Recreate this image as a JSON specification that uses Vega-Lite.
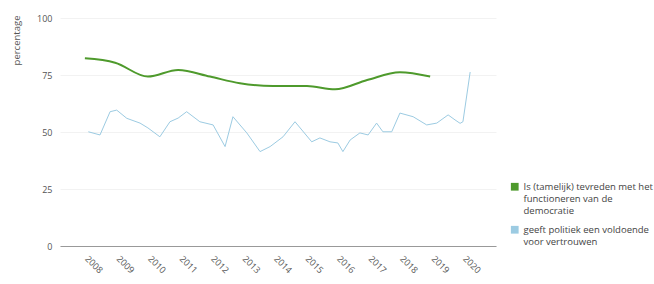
{
  "$schema": "https://vega.github.io/schema/vega-lite/v6.json",
  "autosize": "none",
  "width": 436,
  "height": 228,
  "padding": {"left": 60, "top": 18, "right": 158, "bottom": 38},
  "background": "white",
  "config": {
    "font": "Open Sans",
    "view": {"stroke": null},
    "axis": {"labelColor": "#555", "labelFontSize": 9, "titleColor": "#555", "titleFontSize": 9.5, "titleFontWeight": "normal", "ticks": false, "gridColor": "#f2f2f2"}
  },
  "data": {
    "values": [
      {"jaar": 2007.87, "pct": 82.3, "reeks": "Is (tamelijk) tevreden met het|functioneren van de|democratie"},
      {"jaar": 2008.83, "pct": 80.4, "reeks": "Is (tamelijk) tevreden met het|functioneren van de|democratie"},
      {"jaar": 2009.87, "pct": 74.3, "reeks": "Is (tamelijk) tevreden met het|functioneren van de|democratie"},
      {"jaar": 2010.83, "pct": 77.2, "reeks": "Is (tamelijk) tevreden met het|functioneren van de|democratie"},
      {"jaar": 2011.84, "pct": 74.3, "reeks": "Is (tamelijk) tevreden met het|functioneren van de|democratie"},
      {"jaar": 2012.79, "pct": 71.4, "reeks": "Is (tamelijk) tevreden met het|functioneren van de|democratie"},
      {"jaar": 2013.84, "pct": 70.2, "reeks": "Is (tamelijk) tevreden met het|functioneren van de|democratie"},
      {"jaar": 2014.92, "pct": 70.2, "reeks": "Is (tamelijk) tevreden met het|functioneren van de|democratie"},
      {"jaar": 2015.81, "pct": 68.7, "reeks": "Is (tamelijk) tevreden met het|functioneren van de|democratie"},
      {"jaar": 2016.83, "pct": 72.8, "reeks": "Is (tamelijk) tevreden met het|functioneren van de|democratie"},
      {"jaar": 2017.87, "pct": 76.2, "reeks": "Is (tamelijk) tevreden met het|functioneren van de|democratie"},
      {"jaar": 2018.83, "pct": 74.3, "reeks": "Is (tamelijk) tevreden met het|functioneren van de|democratie"},
      {"jaar": 2007.98, "pct": 50.1, "reeks": "geeft politiek een voldoende|voor vertrouwen"},
      {"jaar": 2008.35, "pct": 48.7, "reeks": "geeft politiek een voldoende|voor vertrouwen"},
      {"jaar": 2008.67, "pct": 58.9, "reeks": "geeft politiek een voldoende|voor vertrouwen"},
      {"jaar": 2008.88, "pct": 59.6, "reeks": "geeft politiek een voldoende|voor vertrouwen"},
      {"jaar": 2009.20, "pct": 56.0, "reeks": "geeft politiek een voldoende|voor vertrouwen"},
      {"jaar": 2009.62, "pct": 53.9, "reeks": "geeft politiek een voldoende|voor vertrouwen"},
      {"jaar": 2009.87, "pct": 51.8, "reeks": "geeft politiek een voldoende|voor vertrouwen"},
      {"jaar": 2010.25, "pct": 47.9, "reeks": "geeft politiek een voldoende|voor vertrouwen"},
      {"jaar": 2010.57, "pct": 54.5, "reeks": "geeft politiek een voldoende|voor vertrouwen"},
      {"jaar": 2010.83, "pct": 56.1, "reeks": "geeft politiek een voldoende|voor vertrouwen"},
      {"jaar": 2011.10, "pct": 58.9, "reeks": "geeft politiek een voldoende|voor vertrouwen"},
      {"jaar": 2011.52, "pct": 54.5, "reeks": "geeft politiek een voldoende|voor vertrouwen"},
      {"jaar": 2011.94, "pct": 53.1, "reeks": "geeft politiek een voldoende|voor vertrouwen"},
      {"jaar": 2012.32, "pct": 43.6, "reeks": "geeft politiek een voldoende|voor vertrouwen"},
      {"jaar": 2012.57, "pct": 56.7, "reeks": "geeft politiek een voldoende|voor vertrouwen"},
      {"jaar": 2013.01, "pct": 49.6, "reeks": "geeft politiek een voldoende|voor vertrouwen"},
      {"jaar": 2013.43, "pct": 41.4, "reeks": "geeft politiek een voldoende|voor vertrouwen"},
      {"jaar": 2013.75, "pct": 43.6, "reeks": "geeft politiek een voldoende|voor vertrouwen"},
      {"jaar": 2014.16, "pct": 47.9, "reeks": "geeft politiek een voldoende|voor vertrouwen"},
      {"jaar": 2014.54, "pct": 54.5, "reeks": "geeft politiek een voldoende|voor vertrouwen"},
      {"jaar": 2015.07, "pct": 45.7, "reeks": "geeft politiek een voldoende|voor vertrouwen"},
      {"jaar": 2015.33, "pct": 47.4, "reeks": "geeft politiek een voldoende|voor vertrouwen"},
      {"jaar": 2015.65, "pct": 45.7, "reeks": "geeft politiek een voldoende|voor vertrouwen"},
      {"jaar": 2015.90, "pct": 45.2, "reeks": "geeft politiek een voldoende|voor vertrouwen"},
      {"jaar": 2016.06, "pct": 41.4, "reeks": "geeft politiek een voldoende|voor vertrouwen"},
      {"jaar": 2016.29, "pct": 46.5, "reeks": "geeft politiek een voldoende|voor vertrouwen"},
      {"jaar": 2016.60, "pct": 49.6, "reeks": "geeft politiek een voldoende|voor vertrouwen"},
      {"jaar": 2016.86, "pct": 48.7, "reeks": "geeft politiek een voldoende|voor vertrouwen"},
      {"jaar": 2017.13, "pct": 53.9, "reeks": "geeft politiek een voldoende|voor vertrouwen"},
      {"jaar": 2017.33, "pct": 50.1, "reeks": "geeft politiek een voldoende|voor vertrouwen"},
      {"jaar": 2017.61, "pct": 50.1, "reeks": "geeft politiek een voldoende|voor vertrouwen"},
      {"jaar": 2017.87, "pct": 58.3, "reeks": "geeft politiek een voldoende|voor vertrouwen"},
      {"jaar": 2018.29, "pct": 56.7, "reeks": "geeft politiek een voldoende|voor vertrouwen"},
      {"jaar": 2018.72, "pct": 53.1, "reeks": "geeft politiek een voldoende|voor vertrouwen"},
      {"jaar": 2019.04, "pct": 53.9, "reeks": "geeft politiek een voldoende|voor vertrouwen"},
      {"jaar": 2019.40, "pct": 57.5, "reeks": "geeft politiek een voldoende|voor vertrouwen"},
      {"jaar": 2019.62, "pct": 55.3, "reeks": "geeft politiek een voldoende|voor vertrouwen"},
      {"jaar": 2019.78, "pct": 53.8, "reeks": "geeft politiek een voldoende|voor vertrouwen"},
      {"jaar": 2019.87, "pct": 54.5, "reeks": "geeft politiek een voldoende|voor vertrouwen"},
      {"jaar": 2020.10, "pct": 76.3, "reeks": "geeft politiek een voldoende|voor vertrouwen"}
    ]
  },
  "encoding": {
    "x": {
      "field": "jaar",
      "type": "quantitative",
      "scale": {"domain": [2007.08, 2020.92], "nice": false, "zero": false},
      "axis": {"values": [2008, 2009, 2010, 2011, 2012, 2013, 2014, 2015, 2016, 2017, 2018, 2019, 2020], "format": "d", "labelAngle": 45, "labelPadding": 8, "grid": false, "domainColor": "#999", "title": null}
    },
    "y": {
      "field": "pct",
      "type": "quantitative",
      "scale": {"domain": [0, 100], "nice": false},
      "axis": {"values": [0, 25, 50, 75, 100], "domain": false, "labelPadding": 8, "title": "percentage", "titleAlign": "right", "titleAngle": -90, "titleX": -44, "titleY": -3, "titleBaseline": "middle"}
    },
    "color": {
      "field": "reeks",
      "type": "nominal",
      "sort": null,
      "scale": {"domain": ["Is (tamelijk) tevreden met het|functioneren van de|democratie", "geeft politiek een voldoende|voor vertrouwen"], "range": ["#4e9a2c", "#9ccbe2"]},
      "legend": {
        "title": null,
        "orient": "none",
        "legendX": 450,
        "legendY": 164,
        "symbolType": "square",
        "symbolSize": 60,
        "symbolOpacity": 1,
        "symbolStrokeWidth": 0,
        "labelFontSize": 9.5,
        "labelColor": "#444",
        "labelLimit": 0,
        "labelExpr": "split(datum.label, '|')",
        "rowPadding": 8,
        "encode": {
          "symbols": {"update": {"fill": {"scale": "color", "field": "value"}, "strokeWidth": {"value": 0}}},
          "labels": {"update": {"lineHeight": {"value": 12}}}
        }
      }
    }
  },
  "layer": [
    {
      "transform": [{"filter": "indexof(datum.reeks, 'Is (tamelijk)') === 0"}],
      "mark": {"type": "line", "interpolate": "monotone", "strokeWidth": 2}
    },
    {
      "transform": [{"filter": "indexof(datum.reeks, 'geeft') === 0"}],
      "mark": {"type": "line", "interpolate": "linear", "strokeWidth": 1}
    }
  ]
}
